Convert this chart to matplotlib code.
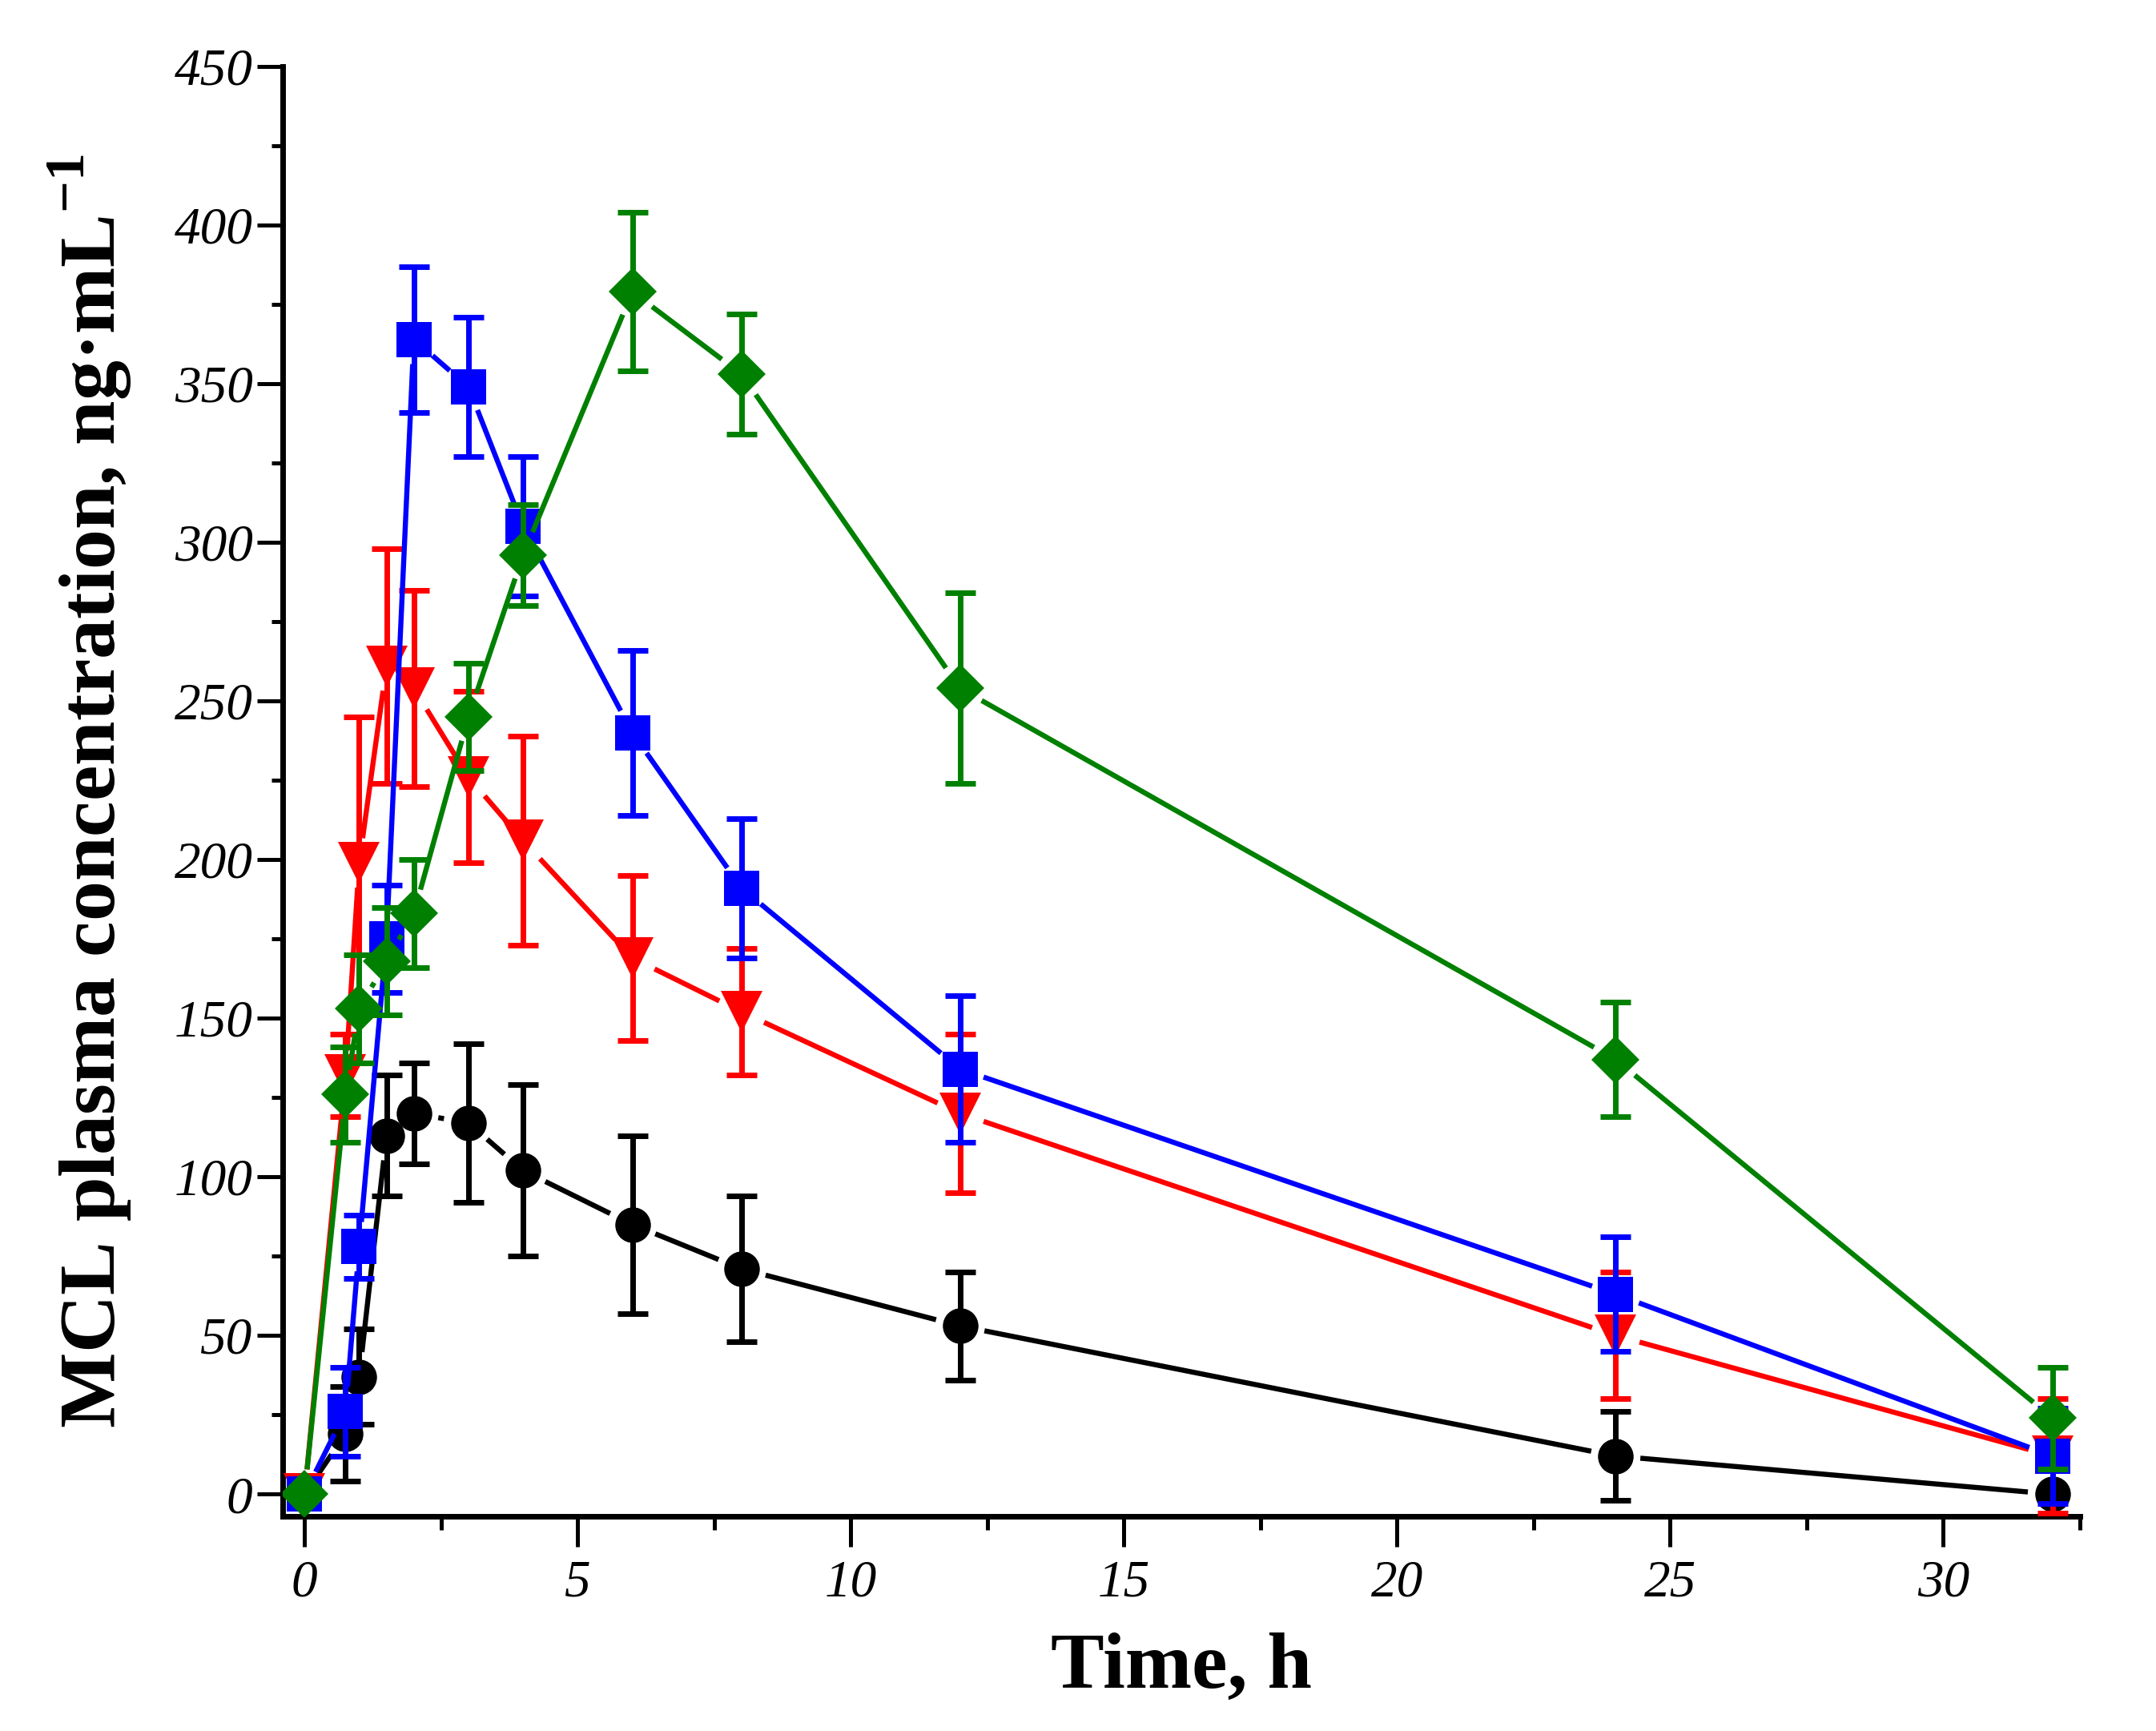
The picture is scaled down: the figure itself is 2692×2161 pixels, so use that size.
"""
MCL 혈장 농도-시간 곡선 (4개 제형 비교) 재현.
출력: out.png (2692x2161)
"""
import matplotlib

matplotlib.use("Agg")
import matplotlib.pyplot as plt
import numpy as np

plt.rcParams["font.family"] = ["Liberation Serif", "DejaVu Serif"]
plt.rcParams["mathtext.fontset"] = "custom"
plt.rcParams["mathtext.rm"] = "Liberation Serif:bold"
plt.rcParams["mathtext.bf"] = "Liberation Serif:bold"

# 채혈 시점 (h)
time_h = [0, 0.75, 1, 1.5, 2, 3, 4, 6, 8, 12, 24, 32]

# 평균 농도 / 표준편차 (ng/mL) — 그림에서 읽은 값
black_mean = [0, 19, 37, 113, 120, 117, 102, 85, 71, 53, 12, 0]
black_sd = [0, 15, 15, 19, 16, 25, 27, 28, 23, 17, 14, 0]

red_mean = [0, 132, 199, 261, 254, 226, 206, 169, 152, 120, 50, 12]
red_sd = [0, 13, 46, 37, 31, 27, 33, 26, 20, 25, 20, 18]

blue_mean = [0, 26, 78, 175, 364, 349, 305, 240, 191, 134, 63, 12]
blue_sd = [0, 14, 10, 17, 23, 22, 22, 26, 22, 23, 18, 15]

green_mean = [0, 126, 153, 168, 183, 245, 296, 379, 353, 254, 137, 24]
green_sd = [0, 15, 17, 17, 17, 17, 16, 25, 19, 30, 18, 16]

SERIES = [
    (black_mean, black_sd, "#000000", "o", 32),
    (red_mean, red_sd, "#FF0000", "v", 37),
    (blue_mean, blue_sd, "#0000FF", "s", 32),
    (green_mean, green_sd, "#008000", "D", 31),
]

W, H, DPI = 2692, 2161, 100
fig = plt.figure(figsize=(W / DPI, H / DPI), dpi=DPI)
fig.patch.set_facecolor("white")

# 축 위치 (픽셀 기준으로 잡은 값)
left, right, bottom, top = 353 / W, 2597 / W, 1 - 1893 / H, 1 - 83 / H
ax = fig.add_axes([left, bottom, right - left, top - bottom])

ax.set_xlim(-0.4, 32.5)
ax.set_ylim(-7, 450)

GAP_PX = 31  # Origin 식 "gap to symbol"


def gapped_line(xs, ys, color, z):
    """점 사이 선분을 심볼 주변에서 잘라서 그림"""
    pts = ax.transData.transform(np.column_stack([xs, ys]))
    inv = ax.transData.inverted()
    for p0, p1 in zip(pts[:-1], pts[1:]):
        d = p1 - p0
        dist = np.hypot(*d)
        if dist <= 2 * GAP_PX + 2:
            continue
        u = d / dist
        a = inv.transform(p0 + u * GAP_PX)
        b = inv.transform(p1 - u * GAP_PX)
        ax.plot([a[0], b[0]], [a[1], b[1]], color=color, linewidth=4.6,
                solid_capstyle="butt", zorder=z)


for i, (mean, sd, color, marker, ms) in enumerate(SERIES):
    z = 3 + i * 3
    t = np.array(time_h, dtype=float)
    m = np.array(mean, dtype=float)
    s = np.array(sd, dtype=float)
    gapped_line(t, m, color, z)
    keep = s > 0
    ax.errorbar(t[keep], m[keep], yerr=s[keep], fmt="none", ecolor=color,
                elinewidth=5, capsize=14, capthick=5, zorder=z + 1)
    ax.plot(t, m, linestyle="none", marker=marker, markersize=ms,
            color=color, markeredgewidth=0, zorder=z + 2)

# 축 스타일
for side in ["top", "right"]:
    ax.spines[side].set_visible(False)
for side in ["left", "bottom"]:
    ax.spines[side].set_linewidth(5)

ax.set_xticks(np.arange(0, 31, 5))
ax.set_xticks(np.arange(0, 33, 2.5), minor=True)
ax.set_yticks(np.arange(0, 451, 50))
ax.set_yticks(np.arange(0, 451, 25), minor=True)

ax.tick_params(axis="x", which="major", direction="out", length=27, width=3.6, pad=12)
ax.tick_params(axis="x", which="minor", direction="out", length=12, width=3.6)
ax.tick_params(axis="y", which="major", direction="out", length=23, width=3.6, pad=4)
ax.tick_params(axis="y", which="minor", direction="out", length=10, width=3.6)

for lab in ax.get_xticklabels() + ax.get_yticklabels():
    lab.set_fontstyle("italic")
    lab.set_fontsize(47)

ax.set_xlabel("Time, h", fontsize=72, fontweight="bold")
ax.set_ylabel(r"MCL plasma concentration, ng·mL$^{-1}$", fontsize=72, fontweight="bold")
ax.xaxis.set_label_coords(0.5, -0.08)
ax.yaxis.set_label_coords(-0.083, 0.5)

fig.savefig("out.png", dpi=DPI, facecolor="white")
